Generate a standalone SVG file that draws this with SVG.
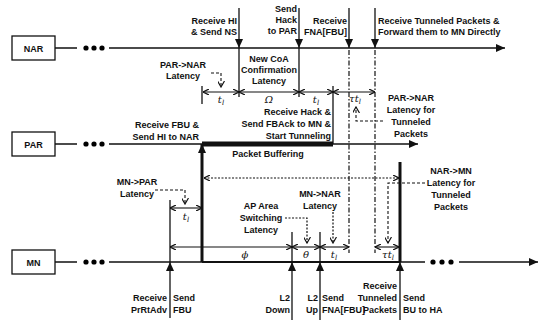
<svg xmlns="http://www.w3.org/2000/svg" width="540" height="321" viewBox="0 0 540 321">
<style>
text{font-family:"Liberation Sans",Arial,sans-serif;font-size:9px;font-weight:bold;fill:#111}
.e{text-anchor:end}.m{text-anchor:middle}
.box{fill:#fff;stroke:#111;stroke-width:1.3}
.ln{stroke:#111;stroke-width:1.3;fill:none}
.thk{stroke:#111;stroke-width:3;fill:none}
.dash{stroke:#111;stroke-width:1.2;fill:none;stroke-dasharray:5,2,1.5,2}
.ld{stroke:#111;stroke-width:1.1;fill:none;stroke-dasharray:3,2}
.dot{stroke:#111;stroke-width:1.2;fill:none;stroke-dasharray:2,1.5}
.br{stroke:#111;stroke-width:1.1;fill:none}
.g{font-family:"DejaVu Serif",serif;font-style:italic;font-weight:normal;font-size:10px}
</style>
<defs>
<marker id="a" markerUnits="userSpaceOnUse" markerWidth="9" markerHeight="8" refX="9" refY="4" orient="auto"><path d="M0,0L9,4L0,8z" fill="#111"/></marker>
<marker id="s" markerUnits="userSpaceOnUse" markerWidth="6" markerHeight="6" refX="6" refY="3" orient="auto-start-reverse"><path d="M0,0L6,3L0,6" fill="none" stroke="#111" stroke-width="1.2"/></marker>
<marker id="v" markerUnits="userSpaceOnUse" markerWidth="7" markerHeight="7" refX="6" refY="3.5" orient="auto"><path d="M0,0L6,3.5L0,7" fill="none" stroke="#111" stroke-width="1.2"/></marker>
</defs>

<g id="NAR">
<rect class="box" x="12" y="36" width="43" height="24"/>
<text class="m" x="33.5" y="51.5">NAR</text>
<circle cx="86" cy="48" r="2.6"/><circle cx="94" cy="48" r="2.6"/><circle cx="102" cy="48" r="2.6"/>
</g>
<g id="PAR">
<rect class="box" x="12" y="132" width="43" height="24"/>
<text class="m" x="33.5" y="147.5">PAR</text>
<circle cx="86" cy="144" r="2.6"/><circle cx="94" cy="144" r="2.6"/><circle cx="102" cy="144" r="2.6"/>
</g>
<g id="MN">
<rect class="box" x="12" y="250" width="43" height="24"/>
<text class="m" x="33.5" y="265.5">MN</text>
<circle cx="86" cy="262" r="2.6"/><circle cx="94" cy="262" r="2.6"/><circle cx="102" cy="262" r="2.6"/>
<circle cx="433" cy="262" r="2.6"/><circle cx="442" cy="262" r="2.6"/><circle cx="451" cy="262" r="2.6"/>
</g>

<g id="connectors">
<path class="ln" d="M55,48H77M109,48H505" marker-end="url(#a)"/>
<path class="ln" d="M55,144H77M109,144H202"/>
<path d="M202,144H333" stroke="#111" stroke-width="5"/>
<path class="ln" d="M333,144H418" marker-end="url(#a)"/>
<path class="ln" d="M55,262H77M109,262H202"/>
<path d="M202,262H400" stroke="#111" stroke-width="2"/>
<path class="ln" d="M400,262H425M459,262H538" marker-end="url(#a)"/>

<path class="ln" d="M239,8V48" marker-end="url(#a)"/>
<path class="ln" d="M239,48V97"/>
<path class="ln" d="M299,8V48" marker-end="url(#a)"/>
<path class="ln" d="M299,48V97"/>
<path class="ln" d="M349,8V48" marker-end="url(#a)"/>
<path class="dash" d="M349,50V253"/>
<path class="ln" d="M375,8V48" marker-end="url(#a)"/>
<path class="dash" d="M375,50V253"/>
<path class="ln" d="M333,86V144"/>
<path class="ln" d="M202,86V104"/>

<path class="ln" d="M170,200V262"/>
<path class="ln" d="M170,318V262" marker-end="url(#a)"/>
<path class="thk" d="M202,262V144" marker-end="url(#a)"/>
<path class="ln" d="M292,232V262"/>
<path class="ln" d="M292,320V262" marker-end="url(#a)"/>
<path class="ln" d="M320,232V262"/>
<path class="ln" d="M320,320V262" marker-end="url(#a)"/>
<path class="thk" d="M400,162V262"/>
<path class="ln" d="M400,320V262" marker-end="url(#a)"/>

<path class="br" d="M203,92H239" marker-start="url(#s)" marker-end="url(#s)"/>
<path class="br" d="M239,92H299" marker-start="url(#s)" marker-end="url(#s)"/>
<path class="br" d="M299,92H333" marker-start="url(#s)" marker-end="url(#s)"/>
<path class="br" d="M333,92H375" marker-start="url(#s)" marker-end="url(#s)"/>
<path class="br" d="M170,208H202" marker-start="url(#s)" marker-end="url(#s)"/>
<path class="dot" d="M204,178H399" marker-start="url(#s)" marker-end="url(#s)"/>
<path class="br" d="M170,247H292" marker-start="url(#s)" marker-end="url(#s)"/>
<path class="br" d="M292,247H320" marker-start="url(#s)" marker-end="url(#s)"/>
<path class="br" d="M320,247H349" marker-start="url(#s)" marker-end="url(#s)"/>
<path class="br" d="M375,247H399" marker-start="url(#s)" marker-end="url(#s)"/>

<path class="ld" d="M211,73H221V87" marker-end="url(#v)"/>
<path class="ld" d="M155,190H185V204" marker-end="url(#v)"/>
<path class="dot" d="M285,218H307V243" marker-end="url(#v)"/>
<path class="dot" d="M333,212V243" marker-end="url(#v)"/>
<path class="ld" d="M383,121H356V107" marker-end="url(#v)"/>
<path class="ld" d="M425,183H388V243" marker-end="url(#v)"/>
</g>

<g id="labels">
<text class="e" x="237" y="24">Receive HI</text>
<text class="e" x="237" y="35">&amp; Send NS</text>
<text class="e" x="297" y="12">Send</text>
<text class="e" x="297" y="23">Hack</text>
<text class="e" x="297" y="34">to PAR</text>
<text class="e" x="347" y="24">Receive</text>
<text class="e" x="347" y="35">FNA[FBU]</text>
<text x="378" y="24">Receive Tunneled Packets &amp;</text>
<text x="378" y="35">Forward them to MN Directly</text>
<text class="m" x="269" y="62">New CoA</text>
<text class="m" x="269" y="73">Confirmation</text>
<text class="m" x="269" y="84">Latency</text>
<text class="m" x="183" y="68">PAR-&gt;NAR</text>
<text class="m" x="183" y="79">Latency</text>
<text class="e" x="331" y="115">Receive Hack &amp;</text>
<text class="e" x="331" y="127">Send FBAck to MN &amp;</text>
<text class="e" x="331" y="139">Start Tunneling</text>
<text class="e" x="199" y="128">Receive FBU &amp;</text>
<text class="e" x="199" y="140">Send HI to NAR</text>
<text class="m" x="268" y="157">Packet Buffering</text>
<text class="m" x="411" y="101">PAR-&gt;NAR</text>
<text class="m" x="411" y="113">Latency for</text>
<text class="m" x="411" y="125">Tunneled</text>
<text class="m" x="411" y="137">Packets</text>
<text class="m" x="451" y="174">NAR-&gt;MN</text>
<text class="m" x="451" y="186">Latency for</text>
<text class="m" x="451" y="198">Tunneled</text>
<text class="m" x="451" y="210">Packets</text>
<text class="m" x="137" y="185">MN-&gt;PAR</text>
<text class="m" x="137" y="197">Latency</text>
<text class="m" x="261" y="209">AP Area</text>
<text class="m" x="261" y="221">Switching</text>
<text class="m" x="261" y="233">Latency</text>
<text class="m" x="320" y="197">MN-&gt;NAR</text>
<text class="m" x="320" y="209">Latency</text>
<text class="e" x="167" y="301">Receive</text>
<text class="e" x="167" y="313">PrRtAdv</text>
<text x="173" y="301">Send</text>
<text x="173" y="313">FBU</text>
<text class="e" x="290" y="301">L2</text>
<text class="e" x="290" y="313">Down</text>
<text class="e" x="318" y="301">L2</text>
<text class="e" x="318" y="313">Up</text>
<text x="322" y="301">Send</text>
<text x="322" y="313">FNA[FBU]</text>
<text class="e" x="397" y="289">Receive</text>
<text class="e" x="397" y="301">Tunneled</text>
<text class="e" x="397" y="313">Packets</text>
<text x="403" y="301">Send</text>
<text x="403" y="313">BU to HA</text>
<text class="g m" x="221" y="103">t<tspan font-size="7" dy="2">l</tspan></text>
<text class="g m" x="269" y="103" font-style="normal">Ω</text>
<text class="g m" x="316" y="103">t<tspan font-size="7" dy="2">l</tspan></text>
<text class="g m" x="355" y="102">τt<tspan font-size="7" dy="2">l</tspan></text>
<text class="g m" x="186" y="220">t<tspan font-size="7" dy="2">l</tspan></text>
<text class="g m" x="245" y="258">ϕ</text>
<text class="g m" x="306" y="258">θ</text>
<text class="g m" x="334" y="258">t<tspan font-size="7" dy="2">l</tspan></text>
<text class="g m" x="388" y="258">τt<tspan font-size="7" dy="2">l</tspan></text>
</g>
</svg>
